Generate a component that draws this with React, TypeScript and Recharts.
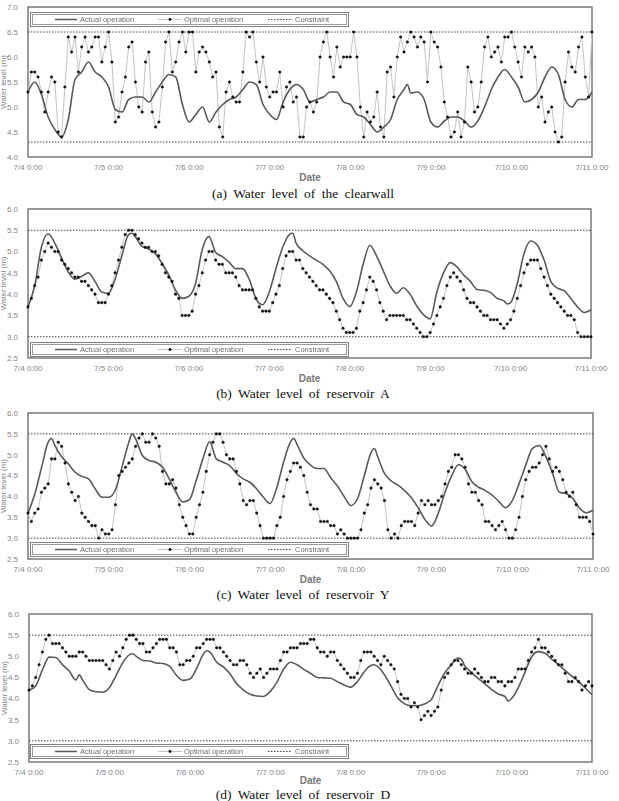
import React from 'react';
import { LineChart, Line, XAxis, YAxis, ReferenceLine, ReferenceArea } from 'recharts';

const X_TICKS = [0, 24, 48, 72, 96, 120, 144, 168];
const X_TICK_LABELS = ['7/4 0:00', '7/5 0:00', '7/6 0:00', '7/7 0:00', '7/8 0:00', '7/9 0:00', '7/10 0:00', '7/11 0:00'];
const Y_TICKS_CLEARWELL = [4.0, 4.5, 5.0, 5.5, 6.0, 6.5, 7.0];
const Y_TICKS_RESERVOIR = [2.5, 3.0, 3.5, 4.0, 4.5, 5.0, 5.5, 6.0];
const CONSTRAINT_CLEARWELL = [4.3, 6.5];
const CONSTRAINT_RESERVOIR = [3.0, 5.5];

// optimal operation, one value per hour from 7/4 0:00
const OPT_A = [
  5.3, 5.7, 5.7, 5.6, 5.3, 4.9, 5.3, 5.6, 5.5, 4.5, 4.4, 5.4, 6.4, 6.1, 6.4, 5.7, 6.2, 6.4, 6.1, 6.2, 6.4, 6.4, 5.9, 6.2,
  6.5, 5.9, 4.7, 4.8, 5.3, 5.6, 6.2, 6.3, 5.5, 5.0, 4.9, 5.9, 6.1, 4.9, 4.6, 4.7, 5.4, 6.3, 6.5, 5.7, 5.9, 6.3, 6.5, 6.1,
  6.5, 6.5, 5.7, 6.1, 6.2, 6.1, 5.9, 5.6, 5.7, 4.6, 4.4, 5.3, 5.5, 5.2, 5.1, 5.1, 5.7, 6.5, 6.4, 6.5, 5.9, 5.5, 6.0, 5.4,
  5.2, 5.3, 5.3, 5.7, 5.0, 5.4, 5.5, 5.1, 5.2, 4.4, 4.4, 5.0, 5.1, 4.9, 5.1, 6.0, 6.3, 6.5, 6.0, 5.6, 6.2, 5.8, 6.0, 6.0,
  6.0, 6.5, 6.0, 5.0, 4.4, 4.9, 4.7, 4.8, 5.3, 4.6, 4.4, 5.7, 5.8, 5.2, 6.0, 6.4, 6.1, 6.3, 6.5, 6.4, 6.2, 6.4, 6.3, 5.5,
  6.5, 6.3, 6.2, 5.8, 5.1, 4.8, 4.4, 4.5, 4.9, 4.4, 4.7, 5.8, 5.5, 4.9, 5.0, 5.5, 6.2, 6.4, 6.0, 6.1, 6.2, 5.9, 6.4, 6.4,
  6.5, 6.2, 5.9, 5.6, 6.2, 6.1, 6.2, 6.0, 5.0, 5.2, 4.7, 4.9, 5.0, 4.5, 4.3, 4.4, 5.5, 6.1, 5.8, 5.7, 6.2, 6.4, 5.6, 5.2, 6.5,
];
const OPT_B = [
  3.7, 3.9, 4.2, 4.4, 4.8, 5.0, 5.2, 5.1, 5.0, 5.0, 4.8, 4.7, 4.6, 4.5, 4.4, 4.4, 4.3, 4.3, 4.2, 4.1, 4.0, 3.8, 3.8, 3.8,
  4.0, 4.2, 4.5, 4.8, 5.1, 5.4, 5.5, 5.5, 5.4, 5.3, 5.2, 5.1, 5.1, 5.0, 5.0, 4.9, 4.7, 4.5, 4.4, 4.3, 4.0, 3.9, 3.5, 3.5,
  3.5, 3.6, 4.0, 4.2, 4.5, 4.8, 5.0, 5.0, 4.8, 4.7, 4.7, 4.5, 4.5, 4.5, 4.4, 4.2, 4.1, 4.1, 4.1, 4.1, 3.9, 3.7, 3.6, 3.6,
  3.6, 3.8, 4.0, 4.2, 4.6, 4.9, 5.0, 5.0, 4.8, 4.8, 4.6, 4.5, 4.4, 4.3, 4.2, 4.1, 4.1, 4.0, 3.9, 3.8, 3.6, 3.4, 3.2, 3.1,
  3.1, 3.1, 3.2, 3.6, 3.8, 4.1, 4.4, 4.3, 4.1, 3.8, 3.6, 3.4, 3.5, 3.5, 3.5, 3.5, 3.5, 3.4, 3.4, 3.3, 3.2, 3.1, 3.0, 3.0,
  3.1, 3.3, 3.5, 3.7, 3.9, 4.2, 4.4, 4.5, 4.4, 4.3, 4.1, 3.9, 3.8, 3.8, 3.7, 3.6, 3.5, 3.5, 3.4, 3.4, 3.4, 3.3, 3.2, 3.3,
  3.4, 3.6, 3.9, 4.2, 4.5, 4.7, 4.8, 4.8, 4.8, 4.6, 4.4, 4.2, 4.0, 3.9, 3.8, 3.7, 3.6, 3.5, 3.5, 3.4, 3.1, 3.0, 3.0, 3.0, 3.0,
];
const OPT_C = [
  3.6, 3.4, 3.6, 3.7, 4.1, 4.2, 4.3, 4.9, 4.9, 5.3, 5.2, 4.8, 4.3, 4.1, 3.9, 4.0, 3.6, 3.5, 3.4, 3.3, 3.3, 3.0, 3.2, 3.1,
  3.1, 3.2, 3.8, 4.5, 4.6, 4.7, 4.8, 4.9, 5.2, 5.4, 5.5, 5.3, 5.3, 5.5, 5.4, 5.2, 4.6, 4.3, 4.3, 4.4, 4.2, 3.8, 3.5, 3.3,
  3.1, 3.1, 3.5, 3.8, 4.1, 4.6, 5.0, 5.3, 5.5, 5.5, 5.3, 5.0, 4.9, 4.9, 4.6, 4.3, 3.9, 3.8, 3.9, 3.9, 3.6, 3.3, 3.0, 3.0,
  3.0, 3.0, 3.3, 3.5, 4.0, 4.4, 4.6, 4.8, 4.8, 4.7, 4.5, 4.1, 3.8, 3.7, 3.7, 3.4, 3.4, 3.4, 3.3, 3.3, 3.1, 3.2, 3.1, 3.0,
  3.0, 3.0, 3.0, 3.2, 3.6, 3.8, 4.2, 4.4, 4.3, 4.2, 3.9, 3.2, 3.0, 3.1, 3.0, 3.3, 3.4, 3.4, 3.4, 3.3, 3.6, 3.9, 3.8, 3.9,
  3.8, 3.8, 3.9, 4.0, 4.3, 4.6, 4.7, 5.0, 5.0, 4.9, 4.7, 4.3, 4.1, 4.1, 3.9, 3.8, 3.4, 3.4, 3.3, 3.2, 3.3, 3.4, 3.2, 3.0,
  3.0, 3.2, 3.5, 4.0, 4.4, 4.6, 4.7, 4.7, 4.8, 5.0, 5.2, 4.9, 4.6, 4.7, 4.6, 4.4, 4.1, 4.0, 4.1, 3.8, 3.5, 3.5, 3.5, 3.4, 3.1,
];
const OPT_D = [
  4.2, 4.3, 4.5, 4.8, 5.1, 5.4, 5.5, 5.3, 5.3, 5.3, 5.2, 5.1, 5.0, 5.0, 5.0, 5.1, 5.1, 5.0, 4.9, 4.9, 4.9, 4.9, 4.9, 4.8,
  4.7, 4.9, 5.1, 5.0, 5.2, 5.4, 5.5, 5.5, 5.4, 5.3, 5.3, 5.1, 5.1, 5.2, 5.3, 5.4, 5.4, 5.4, 5.2, 5.2, 5.1, 4.8, 4.8, 4.9,
  4.9, 5.0, 5.2, 5.2, 5.3, 5.4, 5.4, 5.4, 5.2, 5.2, 5.1, 5.0, 4.9, 4.8, 4.8, 4.9, 4.9, 4.8, 4.6, 4.5, 4.6, 4.7, 4.5, 4.6,
  4.7, 4.7, 4.7, 4.9, 5.1, 5.1, 5.2, 5.2, 5.2, 5.3, 5.3, 5.3, 5.4, 5.4, 5.2, 5.1, 5.1, 5.0, 5.1, 5.1, 4.9, 4.8, 4.7, 4.6,
  4.5, 4.5, 4.6, 4.9, 5.1, 5.1, 5.1, 5.0, 4.9, 4.8, 5.0, 4.9, 4.8, 4.7, 4.4, 4.1, 4.0, 4.0, 3.8, 3.9, 3.8, 3.5, 3.6, 3.7,
  3.6, 3.7, 3.8, 4.2, 4.5, 4.6, 4.8, 4.9, 4.9, 4.8, 4.7, 4.6, 4.6, 4.7, 4.6, 4.5, 4.4, 4.4, 4.5, 4.5, 4.4, 4.4, 4.3, 4.4,
  4.4, 4.5, 4.7, 4.7, 4.7, 4.9, 5.1, 5.2, 5.4, 5.2, 5.2, 5.1, 5.0, 4.9, 4.8, 4.8, 4.6, 4.4, 4.4, 4.5, 4.4, 4.2, 4.3, 4.4, 4.3,
];

// actual operation, [hour, level]
const ACT_A: [number, number][] = [
  [0, 5.3], [2, 5.5], [4, 5.25], [6, 4.8], [8, 4.55], [10, 4.4], [12, 4.75], [14, 5.55], [16, 5.7], [18, 5.9], [20, 5.7],
  [22, 5.6], [24, 5.4], [26, 4.95], [28, 4.9], [30, 5.15], [32, 5.2], [34, 5.2], [36, 5.1], [38, 5.3], [40, 5.5], [42, 5.65],
  [44, 5.6], [46, 5.05], [48, 4.7], [50, 4.85], [52, 5.0], [54, 4.7], [56, 4.9], [58, 5.05], [60, 5.15], [62, 5.2], [64, 5.35],
  [66, 5.5], [68, 5.45], [70, 5.05], [72, 4.85], [74, 4.75], [76, 5.1], [78, 5.35], [80, 5.45], [82, 5.35], [84, 5.1], [86, 5.15],
  [88, 5.2], [90, 5.3], [92, 5.3], [94, 5.1], [96, 5.05], [98, 4.85], [100, 4.8], [102, 4.65], [104, 4.5], [106, 4.6], [108, 4.75],
  [110, 5.15], [112, 5.35], [113, 5.45], [114, 5.28], [116, 5.3], [118, 5.15], [120, 4.7], [122, 4.6], [124, 4.72], [126, 4.8],
  [128, 4.8], [130, 4.72], [132, 4.6], [134, 4.72], [136, 5.0], [138, 5.35], [140, 5.6], [142, 5.75], [144, 5.6], [146, 5.4],
  [148, 5.1], [150, 5.15], [152, 5.3], [154, 5.6], [156, 5.8], [158, 5.65], [160, 5.15], [162, 5.0], [164, 5.15], [166, 5.15], [168, 5.3],
];
const ACT_B: [number, number][] = [
  [0, 3.7], [2, 4.2], [4, 5.1], [6, 5.42], [8, 5.2], [10, 4.85], [12, 4.52], [14, 4.35], [16, 4.42], [18, 4.5], [20, 4.3],
  [22, 4.05], [24, 4.02], [26, 4.35], [28, 4.9], [30, 5.4], [31, 5.43], [32, 5.35], [34, 5.12], [36, 5.06], [38, 4.95], [40, 4.72],
  [42, 4.45], [44, 4.1], [46, 3.9], [48, 3.95], [50, 4.25], [52, 5.05], [54, 5.35], [56, 4.98], [58, 4.88], [60, 4.75], [62, 4.6],
  [64, 4.6], [66, 4.35], [68, 3.9], [70, 3.75], [72, 4.05], [74, 4.6], [76, 5.1], [78, 5.4], [79, 5.43], [80, 5.2], [82, 5.02],
  [84, 4.9], [86, 4.8], [88, 4.7], [90, 4.55], [92, 4.3], [94, 3.9], [96, 3.71], [98, 4.05], [100, 4.7], [102, 5.15], [104, 4.9],
  [106, 4.55], [108, 4.2], [110, 4.02], [112, 4.15], [114, 4.0], [116, 3.72], [118, 3.52], [120, 3.42], [122, 4.05], [124, 4.5],
  [126, 4.74], [128, 4.64], [130, 4.45], [132, 4.3], [134, 4.11], [136, 4.09], [138, 4.04], [140, 3.9], [142, 3.84], [143, 3.77],
  [144, 3.8], [146, 4.25], [148, 4.95], [150, 5.25], [152, 5.15], [154, 4.8], [156, 4.3], [158, 4.14], [160, 4.08], [162, 3.9],
  [164, 3.7], [166, 3.57], [168, 3.63],
];
const ACT_C: [number, number][] = [
  [0, 3.6], [2, 4.05], [4, 4.68], [6, 5.3], [7, 5.39], [8, 5.22], [10, 4.95], [12, 4.78], [14, 4.58], [16, 4.48], [18, 4.42],
  [20, 4.18], [22, 3.98], [24, 3.98], [26, 4.16], [28, 4.72], [30, 5.3], [31, 5.5], [32, 5.38], [34, 4.98], [36, 4.86], [38, 4.82],
  [40, 4.7], [42, 4.42], [44, 4.1], [46, 3.87], [48, 3.92], [50, 4.38], [52, 4.9], [54, 5.31], [56, 4.9], [58, 4.82], [60, 4.74],
  [62, 4.55], [64, 4.42], [66, 4.34], [68, 4.18], [70, 3.98], [72, 3.83], [74, 4.22], [76, 4.82], [78, 5.3], [79, 5.39], [80, 5.25],
  [82, 4.92], [84, 4.75], [86, 4.67], [88, 4.67], [90, 4.45], [92, 4.25], [94, 4.0], [96, 3.78], [98, 3.95], [100, 4.5], [102, 5.05],
  [103, 5.15], [104, 4.95], [106, 4.55], [108, 4.37], [110, 4.27], [112, 4.14], [114, 3.97], [116, 3.73], [118, 3.45], [120, 3.29],
  [122, 3.6], [124, 4.1], [126, 4.5], [128, 4.76], [130, 4.65], [132, 4.35], [134, 4.22], [136, 4.14], [138, 4.03], [140, 3.88],
  [142, 3.73], [144, 3.9], [146, 4.3], [148, 4.75], [150, 5.15], [152, 5.22], [154, 4.95], [156, 4.55], [158, 4.1], [160, 4.07],
  [162, 3.95], [164, 3.72], [166, 3.61], [168, 3.67],
];
const ACT_D: [number, number][] = [
  [0, 4.2], [2, 4.3], [4, 4.68], [6, 4.98], [8, 4.97], [10, 4.8], [12, 4.65], [14, 4.44], [15, 4.56], [16, 4.44], [18, 4.21],
  [20, 4.16], [22, 4.15], [24, 4.26], [26, 4.55], [28, 4.85], [30, 5.04], [31, 5.06], [32, 5.0], [34, 4.9], [36, 4.89], [38, 4.84],
  [40, 4.83], [42, 4.76], [44, 4.55], [46, 4.43], [48, 4.46], [50, 4.71], [52, 5.05], [53, 5.13], [54, 5.1], [56, 4.86], [58, 4.75],
  [60, 4.58], [62, 4.35], [64, 4.2], [66, 4.1], [68, 4.06], [70, 4.05], [72, 4.17], [74, 4.39], [76, 4.7], [78, 4.86], [80, 4.8],
  [82, 4.69], [84, 4.6], [86, 4.5], [88, 4.49], [90, 4.48], [92, 4.4], [94, 4.32], [96, 4.27], [98, 4.4], [100, 4.63], [102, 4.78],
  [103, 4.8], [104, 4.76], [106, 4.57], [108, 4.3], [110, 4.02], [112, 3.88], [114, 3.83], [116, 3.83], [118, 3.87], [120, 3.97],
  [122, 4.3], [124, 4.6], [126, 4.8], [128, 4.96], [129, 4.93], [130, 4.78], [132, 4.62], [134, 4.48], [136, 4.35], [138, 4.22],
  [140, 4.11], [142, 4.05], [143, 3.94], [144, 4.0], [146, 4.26], [148, 4.62], [150, 4.99], [152, 5.11], [154, 5.07], [156, 4.93],
  [158, 4.8], [160, 4.66], [162, 4.53], [164, 4.4], [166, 4.25], [168, 4.09],
];

const SANS = '"Liberation Sans", Arial, sans-serif';
const TICK_STYLE = { fontSize: 8, fill: '#858585', fontFamily: SANS };

interface PanelProps {
  plotTop: number;
  plotBottom: number;
  plotLeft: number;
  plotRight: number;
  yTicks: number[];
  constraints: number[];
  actual: [number, number][];
  optimal: number[];
  legendTop: number;
  caption: string;
  captionY: number;
  xAxisHeight?: number;
}

function Legend({ top }: { top: number }) {
  const txt = { fontSize: 7.5, fontFamily: SANS, fill: '#6e6e6e' };
  return (
    <svg width={319} height={15} style={{ position: 'absolute', left: 30, top, willChange: 'transform' }}>
      <rect x={0.5} y={0.5} width={318} height={14} fill="#fff" stroke="#808080" />
      <rect x={2.5} y={2.5} width={314} height={10} fill="none" stroke="#9a9a9a" />
      <line x1={25} x2={47} y1={7.5} y2={7.5} stroke="#5a5a5a" strokeWidth={1.5} />
      <text x={50} y={10} {...txt}>Actual operation</text>
      <line x1={128} x2={152} y1={7.5} y2={7.5} stroke="#c4c4c4" strokeWidth={1} />
      <circle cx={140} cy={7.5} r={1.4} fill="#111" />
      <text x={154} y={10} {...txt}>Optimal operation</text>
      <line x1={238} x2={262} y1={7.5} y2={7.5} stroke="#444" strokeDasharray="1.5 1.5" />
      <text x={265} y={10} {...txt}>Constraint</text>
    </svg>
  );
}

function Panel(p: PanelProps) {
  const lo = p.yTicks[0];
  const hi = p.yTicks[p.yTicks.length - 1];
  const plotH = p.plotBottom - p.plotTop;
  const axisH = p.xAxisHeight ?? 24;
  const optData = p.optimal.map((v, i) => ({ h: i, v }));
  const actData = p.actual.map(([h, v]) => ({ h, v }));
  return (
    <>
      <div style={{ position: 'absolute', left: 0, top: p.plotTop - 7 }}>
        <LineChart
          width={619}
          height={plotH + axisH + 8}
          margin={{ top: 7, right: 619 - p.plotRight, bottom: 1, left: p.plotLeft - 28 }}
        >
          <XAxis
            type="number"
            dataKey="h"
            domain={[0, 168]}
            ticks={X_TICKS}
            interval={0}
            tickFormatter={(v: number) => X_TICK_LABELS[X_TICKS.indexOf(v)]}
            tick={TICK_STYLE}
            tickLine={false}
            axisLine={false}
            tickSize={4}
            tickMargin={3}
            height={axisH}
            label={{ value: 'Date', position: 'insideBottom', offset: 0, style: { fontSize: 10, fontWeight: 700, fill: '#777', fontFamily: SANS } }}
          />
          <YAxis
            type="number"
            domain={[lo, hi]}
            ticks={p.yTicks}
            interval={0}
            tickFormatter={(v: number) => v.toFixed(1)}
            tick={TICK_STYLE}
            tickLine={false}
            axisLine={false}
            tickSize={8}
            tickMargin={2}
            width={28}
            label={{ value: 'Water level (m)', angle: -90, position: 'insideLeft', offset: 3, style: { textAnchor: 'middle', fontSize: 8, fill: '#858585', fontFamily: SANS } }}
          />
          <ReferenceArea x1={0} x2={168} y1={lo} y2={hi} fill="none" fillOpacity={0} stroke="#7a7a7a" strokeWidth={1.5} />
          {p.constraints.map((c) => (
            <ReferenceLine key={c} y={c} stroke="#444" strokeDasharray="1.5 1.5" strokeWidth={1} />
          ))}
          <Line
            data={optData}
            dataKey="v"
            type="linear"
            stroke="#c4c4c4"
            strokeWidth={1}
            dot={{ r: 1.3, fill: '#111', stroke: '#111', strokeWidth: 0.4 }}
            isAnimationActive={false}
          />
          <Line
            data={actData}
            dataKey="v"
            type="monotone"
            stroke="#5a5a5a"
            strokeWidth={1.6}
            dot={false}
            isAnimationActive={false}
          />
        </LineChart>
      </div>
      <Legend top={p.legendTop} />
      <div
        style={{
          position: 'absolute',
          left: 0,
          width: 606,
          top: p.captionY - 6,
          lineHeight: '13px',
          textAlign: 'center',
          fontFamily: '"Liberation Serif", "DejaVu Serif", serif',
          fontSize: 13.5,
          wordSpacing: 3,
          color: '#111',
        }}
      >
        {p.caption}
      </div>
    </>
  );
}

export default function App() {
  return (
    <div style={{ position: 'absolute', left: 0, top: 0, width: 619, height: 801, background: '#fff', overflow: 'hidden' }}>
      <Panel plotTop={7} plotBottom={157} plotLeft={28} plotRight={592} yTicks={Y_TICKS_CLEARWELL} constraints={CONSTRAINT_CLEARWELL}
        actual={ACT_A} optimal={OPT_A} legendTop={12} caption="(a) Water level of the clearwall" captionY={193} />
      <Panel plotTop={209} plotBottom={358} plotLeft={28} plotRight={591} yTicks={Y_TICKS_RESERVOIR} constraints={CONSTRAINT_RESERVOIR}
        actual={ACT_B} optimal={OPT_B} legendTop={342} caption="(b) Water level of reservoir A" captionY={393} />
      <Panel plotTop={413} plotBottom={559} plotLeft={28} plotRight={593} yTicks={Y_TICKS_RESERVOIR} constraints={CONSTRAINT_RESERVOIR}
        actual={ACT_C} optimal={OPT_C} legendTop={542} caption="(c) Water level of reservoir Y" captionY={594} />
      <Panel plotTop={614} plotBottom={762} plotLeft={29} plotRight={592} yTicks={Y_TICKS_RESERVOIR} constraints={CONSTRAINT_RESERVOIR}
        actual={ACT_D} optimal={OPT_D} legendTop={744} caption="(d) Water level of reservoir D" captionY={794} xAxisHeight={22} />
    </div>
  );
}
